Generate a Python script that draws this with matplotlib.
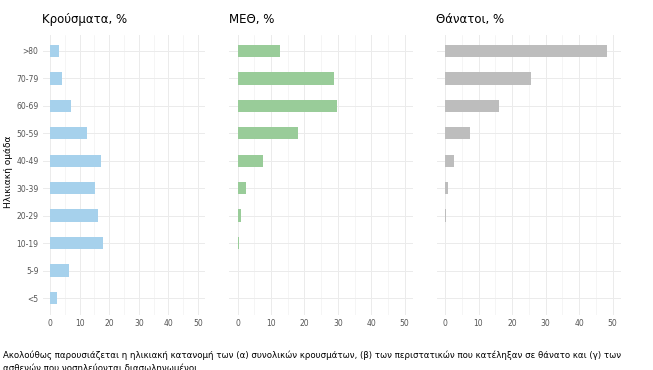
import matplotlib
matplotlib.use("Agg")
import matplotlib.pyplot as plt
import numpy as np

age_groups = ["<5", "5-9", "10-19", "20-29", "30-39", "40-49", "50-59", "60-69", "70-79", ">80"]
cases = [2.4, 6.4, 17.9, 16.2, 15.2, 17.2, 12.5, 7.1, 4.0, 3.0]
icu = [0.1, 0.1, 0.3, 1.0, 2.5, 7.5, 18.0, 29.7, 28.8, 12.7]
deaths = [0.1, 0.0, 0.1, 0.3, 0.9, 2.7, 7.5, 16.1, 25.7, 48.3]
titles = ["Κρούσματα, %", "ΜΕΘ, %", "Θάνατοι, %"]
colors = ["#a6d1ec", "#99cc99", "#bdbdbd"]
xticks = [0, 10, 20, 30, 40, 50]
ylabel = "Ηλικιακή ομάδα"
caption1 = ("Ακολούθως παρουσιάζεται η ηλικιακή κατανομή των (α) συνολικών κρουσμάτων, "
            "(β) των περιστατικών που κατέληξαν σε θάνατο και (γ) των")
caption2 = "ασθενών που νοσηλεύονται διασωληνωμένοι."

W, H = 653, 370
fig = plt.figure(figsize=(W / 100, H / 100), dpi=100)
fig.patch.set_facecolor("white")

# panel boxes in pixels: (left, right)
panels = [(42.6, 205.4), (229.3, 413.0), (436.6, 621.0)]
top_px, bot_px = 34.5, 314.5

for i, (vals, title, col) in enumerate(zip([cases, icu, deaths], titles, colors)):
    l, r = panels[i]
    ax = fig.add_axes([l / W, 1 - bot_px / H, (r - l) / W, (bot_px - top_px) / H])
    y = np.arange(len(age_groups))
    ax.barh(y, vals, height=0.45, color=col, zorder=3)
    ax.set_xlim(-2.5, 52.5)
    ax.set_ylim(-0.6, len(age_groups) - 1 + 0.6)
    ax.set_xticks(xticks)
    ax.set_xticks([5, 15, 25, 35, 45], minor=True)
    ax.set_yticks(y)
    if i == 0:
        ax.set_yticklabels(age_groups, fontsize=5.5, color="#555555")
    else:
        ax.set_yticklabels([])
    ax.set_xticklabels([str(t) for t in xticks], fontsize=5.5, color="#555555")
    ax.tick_params(axis="both", which="both", length=0, pad=3)
    ax.grid(True, which="major", color="#ebebeb", linewidth=0.7, zorder=0)
    ax.grid(True, which="minor", axis="x", color="#f2f2f2", linewidth=0.5, zorder=0)
    for s in ax.spines.values():
        s.set_visible(False)
    ax.set_facecolor("white")
    fig.text((l - 0.5) / W, 1 - 20 / H, title, fontsize=8.5, color="black",
             ha="left", va="center")

fig.text(9 / W, 1 - 172 / H, ylabel, fontsize=6.5, rotation=90, ha="center",
         va="center", color="black")

fig.text(3 / W, 1 - 355 / H, caption1, fontsize=6.2, ha="left", va="center",
         family=["Liberation Sans Narrow", "DejaVu Sans"], color="black")
fig.text(3 / W, 1 - 368 / H, caption2, fontsize=6.2, ha="left", va="center",
         family=["Liberation Sans Narrow", "DejaVu Sans"], color="black")

fig.savefig("out.png", dpi=100)
